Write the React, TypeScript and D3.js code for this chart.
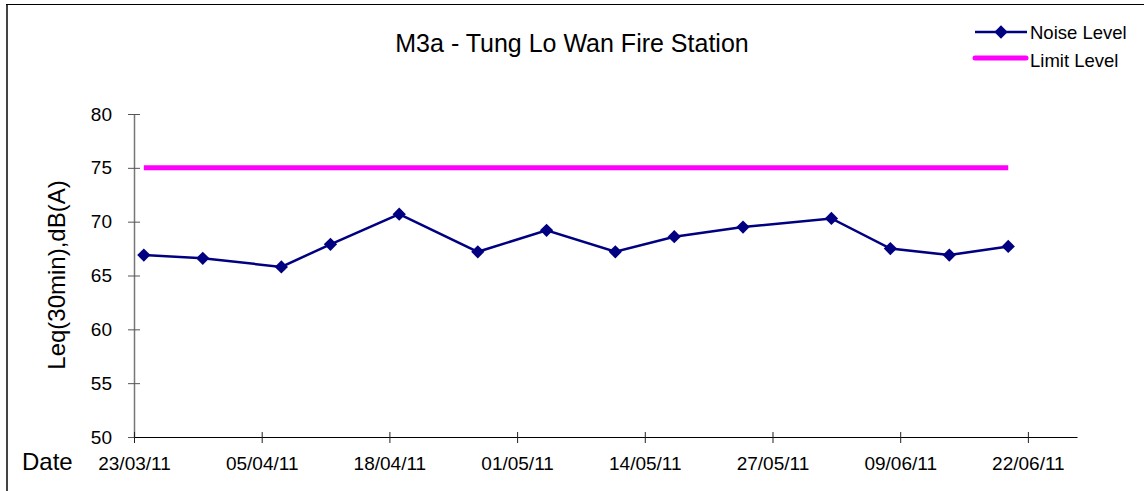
import React, { useEffect, useRef } from 'react';
import * as d3 from 'd3';

// Measurement dates and noise readings
const dates = [
  '2011-03-24', '2011-03-30', '2011-04-07', '2011-04-12', '2011-04-19',
  '2011-04-27', '2011-05-04', '2011-05-11', '2011-05-17', '2011-05-24',
  '2011-06-02', '2011-06-08', '2011-06-14', '2011-06-20',
];
const noiseLevel = [66.9, 66.6, 65.8, 67.9, 70.7, 67.2, 69.2, 67.2, 68.6, 69.5, 70.3, 67.5, 66.9, 67.7];
const limitLevel = 75;
const yTicks = [50, 55, 60, 65, 70, 75, 80];
const xTickDates = ['2011-03-23', '2011-04-05', '2011-04-18', '2011-05-01', '2011-05-14', '2011-05-27', '2011-06-09', '2011-06-22'];
const xDomain = ['2011-03-23', '2011-06-27'];

const W = 1148;
const H = 491;
const FONT = "'Liberation Sans', Arial, sans-serif";

const App: React.FC = () => {
  const svgRef = useRef<SVGSVGElement>(null);

  useEffect(() => {
    if (!svgRef.current) return;
    const svg = d3.select(svgRef.current);
    svg.selectAll('*').remove();

    const parse = d3.utcParse('%Y-%m-%d');
    const x = d3.scaleUtc().domain(xDomain.map(d => parse(d)!)).range([134, 1077]);
    const y = d3.scaleLinear().domain([50, 80]).range([437, 114]);

    const data = dates.map((d, i) => ({ date: parse(d)!, value: noiseLevel[i] }));

    // outer frame (left + top only visible)
    svg.append('line').attr('x1', 7).attr('x2', 7).attr('y1', 4).attr('y2', H)
      .attr('stroke', '#444').attr('stroke-width', 2);
    svg.append('line').attr('x1', 6).attr('x2', 1144).attr('y1', 4.5).attr('y2', 4.5)
      .attr('stroke', '#000').attr('stroke-width', 1);

    // title
    svg.append('text').attr('x', 572).attr('y', 52).attr('text-anchor', 'middle')
      .attr('font-family', FONT).attr('font-size', 25).attr('fill', '#000')
      .text('M3a - Tung Lo Wan Fire Station');

    // y axis
    const yAxis = svg.append('g').attr('transform', 'translate(134,0)')
      .call(d3.axisLeft(y).tickValues(yTicks).tickSize(6).tickPadding(16).tickSizeOuter(0));
    yAxis.select('.domain').attr('stroke', '#777').attr('stroke-width', 1.5);
    yAxis.selectAll('.tick line').attr('x1', 6).attr('x2', -6).attr('stroke', '#555');
    yAxis.selectAll('.tick text').attr('font-family', FONT).attr('font-size', 19).attr('fill', '#000');

    // x axis
    const xAxis = svg.append('g').attr('transform', 'translate(0,437)')
      .call(d3.axisBottom(x).tickValues(xTickDates.map(d => parse(d)!))
        .tickFormat(d => d3.utcFormat('%d/%m/%y')(d as Date)).tickSize(6).tickPadding(14).tickSizeOuter(0));
    xAxis.select('.domain').attr('stroke', '#000').attr('stroke-width', 1.2);
    xAxis.selectAll('.tick line').attr('y1', -5).attr('y2', 6).attr('stroke', '#222');
    xAxis.selectAll('.tick text').attr('font-family', FONT).attr('font-size', 19).attr('fill', '#000');

    // axis titles
    svg.append('text').attr('transform', 'translate(65,275) rotate(-90)').attr('text-anchor', 'middle')
      .attr('font-family', FONT).attr('font-size', 24).attr('fill', '#000').text('Leq(30min),dB(A)');
    svg.append('text').attr('x', 22).attr('y', 470)
      .attr('font-family', FONT).attr('font-size', 24).attr('fill', '#000').text('Date');

    // limit line
    const first = data[0].date;
    const last = data[data.length - 1].date;
    svg.append('line').attr('x1', x(first)).attr('x2', x(last)).attr('y1', y(limitLevel)).attr('y2', y(limitLevel))
      .attr('stroke', '#FF00FF').attr('stroke-width', 5);

    // noise line
    const line = d3.line<{ date: Date; value: number }>().x(d => x(d.date)).y(d => y(d.value));
    svg.append('path').datum(data).attr('d', line).attr('fill', 'none')
      .attr('stroke', '#000080').attr('stroke-width', 2.5);

    const diamond = d3.symbol().type(d3.symbolSquare).size(88);
    svg.append('g').selectAll('path').data(data).enter().append('path')
      .attr('d', diamond())
      .attr('transform', d => `translate(${x(d.date)},${y(d.value)}) rotate(45)`)
      .attr('fill', '#000080');

    // legend
    const lg = svg.append('g');
    lg.append('line').attr('x1', 975).attr('x2', 1027).attr('y1', 32).attr('y2', 32)
      .attr('stroke', '#000080').attr('stroke-width', 2.5);
    lg.append('path').attr('d', diamond()).attr('transform', 'translate(1001,32) rotate(45)').attr('fill', '#000080');
    lg.append('text').attr('x', 1030).attr('y', 38.5).attr('font-family', FONT).attr('font-size', 18.5)
      .attr('fill', '#000').text('Noise Level');
    lg.append('line').attr('x1', 975).attr('x2', 1026).attr('y1', 58).attr('y2', 58)
      .attr('stroke', '#FF00FF').attr('stroke-width', 5).attr('stroke-linecap', 'round');
    lg.append('text').attr('x', 1030).attr('y', 66.5).attr('font-family', FONT).attr('font-size', 18.5)
      .attr('fill', '#000').text('Limit Level');
  }, []);

  return (
    <div style={{ position: 'fixed', left: 0, top: 0, width: W, height: H, background: '#fff' }}>
      <svg ref={svgRef} width={W} height={H} style={{ display: 'block' }} />
    </div>
  );
};

export default App;
